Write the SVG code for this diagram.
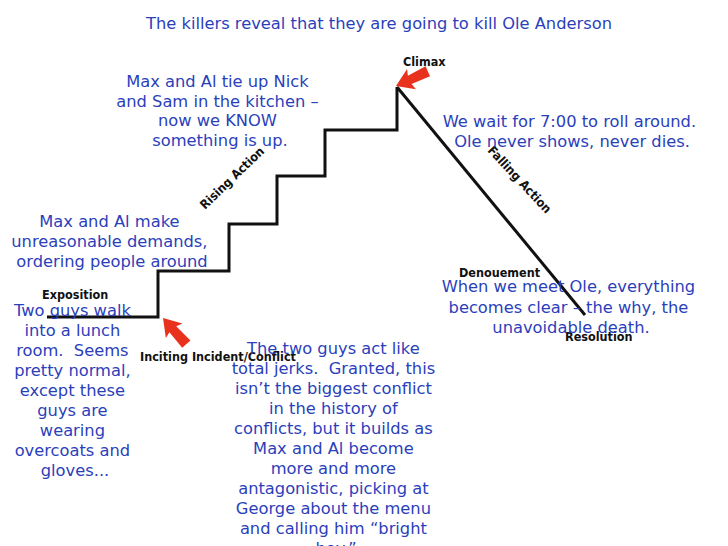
<svg xmlns="http://www.w3.org/2000/svg" width="728" height="546" viewBox="0 0 728 546">
<defs>
<style>
.b{font-family:"DejaVu Sans","Liberation Sans",sans-serif;font-size:16.3px;fill:#2b3fbb;text-anchor:middle}
.k{font-family:"DejaVu Sans Condensed","DejaVu Sans",sans-serif;font-weight:bold;font-size:12.5px;fill:#111}
.line{fill:none;stroke:#111;stroke-width:3;stroke-linejoin:miter}
</style>
<path id="arr" d="M0,0 L17,-11 L15,-4.5 L35,-6 L35,5 L15,4.5 L17,11 Z" fill="#e8321e"/>
</defs>
<rect width="728" height="546" fill="#fff"/>
<g id="connectors">
<path class="line" d="M47,317 H158 V271 H229 V224 H277 V176 H325 V130 H397 V87"/>
<path class="line" stroke-width="2.5" d="M397,87 L585,315"/>
<use href="#arr" transform="translate(396,86) rotate(-24)"/>
<use href="#arr" transform="translate(163,318) rotate(49)"/>
</g>
<g id="title"><text class="b" x="379" y="29">The killers reveal that they are going to kill Ole Anderson</text></g>
<g id="climax"><text class="k" x="403" y="66">Climax</text></g>
<g id="rising"><text class="k" transform="translate(205,210) rotate(-44)">Rising Action</text></g>
<g id="falling"><text class="k" transform="translate(487,151) rotate(47)">Falling Action</text></g>
<g id="denouement"><text class="k" x="459" y="277">Denouement</text></g>
<g id="resolution"><text class="k" x="565" y="341">Resolution</text></g>
<g id="exposition"><text class="k" x="42" y="299">Exposition</text></g>
<g id="inciting"><text class="k" x="140" y="361">Inciting Incident/Conflict</text></g>
<g id="tieup"><text class="b">
<tspan x="220" y="87">Max and Al tie up Nick</tspan>
<tspan x="220" y="107">and Sam in the kitchen –</tspan>
<tspan x="220" y="126">now we KNOW</tspan>
<tspan x="220" y="146">something is up.</tspan>
</text></g>
<g id="demands"><text class="b">
<tspan x="112" y="227">Max and Al make</tspan>
<tspan x="112" y="247">unreasonable demands,</tspan>
<tspan x="112" y="267">ordering people around</tspan>
</text></g>
<g id="lunch"><text class="b">
<tspan x="75" y="316">Two guys walk</tspan>
<tspan x="75" y="336">into a lunch</tspan>
<tspan x="75" y="356">room.&#160; Seems</tspan>
<tspan x="75" y="376">pretty normal,</tspan>
<tspan x="75" y="396">except these</tspan>
<tspan x="75" y="416">guys are</tspan>
<tspan x="75" y="436">wearing</tspan>
<tspan x="75" y="456">overcoats and</tspan>
<tspan x="75" y="476">gloves...</tspan>
</text></g>
<g id="jerks"><text class="b">
<tspan x="336" y="354">The two guys act like</tspan>
<tspan x="336" y="374">total jerks.&#160; Granted, this</tspan>
<tspan x="336" y="394">isn’t the biggest conflict</tspan>
<tspan x="336" y="414">in the history of</tspan>
<tspan x="336" y="434">conflicts, but it builds as</tspan>
<tspan x="336" y="454">Max and Al become</tspan>
<tspan x="336" y="474">more and more</tspan>
<tspan x="336" y="494">antagonistic, picking at</tspan>
<tspan x="336" y="514">George about the menu</tspan>
<tspan x="336" y="534">and calling him “bright</tspan>
<tspan x="336" y="554">boy.”</tspan>
</text></g>
<g id="wait"><text class="b">
<tspan x="572" y="127">We wait for 7:00 to roll around.</tspan>
<tspan x="572" y="147">Ole never shows, never dies.</tspan>
</text></g>
<g id="meet"><text class="b">
<tspan x="571" y="292">When we meet Ole, everything</tspan>
<tspan x="571" y="313">becomes clear – the why, the</tspan>
<tspan x="571" y="333">unavoidable death.</tspan>
</text></g>
</svg>
